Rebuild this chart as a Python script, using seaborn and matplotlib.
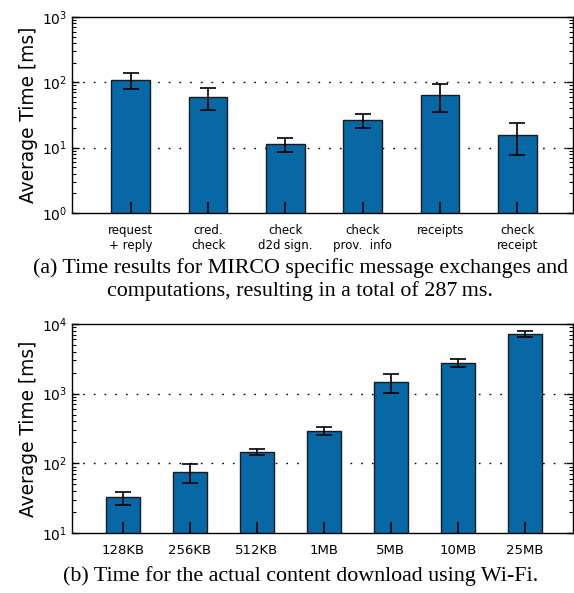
import numpy as np
import pandas as pd
import seaborn as sns
import matplotlib
matplotlib.use("Agg")
import matplotlib.pyplot as plt
from matplotlib.ticker import LogLocator, NullFormatter

# (a) MIRCO message exchanges and computations
steps = ["request\n+ reply", "cred.\ncheck", "check\nd2d sign.", "check\nprov.  info", "receipts", "check\nreceipt"]
steps_mean = [108, 60, 11.2, 26.5, 64.5, 15.8]
steps_low = [78, 38, 8.6, 20.2, 35, 7.8]
steps_high = [140, 83, 14.2, 32.7, 93.5, 24]

# (b) content download over Wi-Fi
sizes = ["128KB", "256KB", "512KB", "1MB", "5MB", "10MB", "25MB"]
sizes_mean = [32.7, 75, 145, 295, 1480, 2800, 7250]
sizes_low = [25.4, 52, 132, 254, 1030, 2400, 6610]
sizes_high = [39, 98, 160, 330, 1900, 3190, 8020]

bar_color = "#0868A6"

sns.set_style("ticks")
plt.rcParams.update({
    "font.family": ["DejaVu Sans"],
    "xtick.direction": "in",
    "ytick.direction": "in",
    "xtick.color": "black",
    "ytick.color": "black",
    "text.color": "black",
    "axes.labelcolor": "black",
    "axes.linewidth": 1.0,
    "axes.axisbelow": False,
})

fig = plt.figure(figsize=(5.74, 5.93), dpi=100)
ax_a = fig.add_axes([0.1254, 0.6408, 0.873, 0.3305])
ax_b = fig.add_axes([0.1254, 0.1012, 0.873, 0.3524])


def draw_panel(ax, labels, mean, low, high, ylim, xlabelsize):
    df = pd.DataFrame({"label": labels, "mean": mean})
    sns.barplot(data=df, x="label", y="mean", ax=ax, color=bar_color,
                width=0.5, edgecolor="#1a1a1a", linewidth=1.0, saturation=1)
    ax.set_yscale("log")
    mean = np.array(mean)
    yerr = [mean - np.array(low), np.array(high) - mean]
    ax.errorbar(np.arange(len(labels)), mean, yerr=yerr, fmt="none",
                ecolor="black", elinewidth=1.2, capsize=6, capthick=1.2, zorder=5)
    ax.set_ylim(*ylim)
    ax.set_xlim(-0.76, len(labels) - 0.28)
    ax.yaxis.set_major_locator(LogLocator(base=10, numticks=10))
    ax.yaxis.set_minor_locator(LogLocator(base=10, subs=np.arange(2, 10), numticks=20))
    ax.yaxis.set_minor_formatter(NullFormatter())
    ax.tick_params(axis="y", which="major", direction="in", left=True, right=True,
                   length=5, width=1.0, labelsize=10)
    ax.tick_params(axis="y", which="minor", direction="in", left=True, right=True,
                   length=3, width=0.8)
    ax.tick_params(axis="x", which="major", direction="in", bottom=True, top=False,
                   length=8, width=1.2, color="black", labelsize=xlabelsize, pad=8)
    ax.tick_params(axis="x", which="minor", bottom=False, top=False)
    ax.xaxis.set_zorder(6)
    ax.yaxis.set_zorder(6)
    for v in ax.get_yticks():
        if ylim[0] < v < ylim[1]:
            ax.axhline(v, color="black", linestyle=(0, (1.2, 6.5)), linewidth=1.0, zorder=0.5)
    ax.set_xlabel("")
    ax.set_ylabel("Average Time [ms]", fontsize=13.4, labelpad=3)
    for s in ax.spines.values():
        s.set_visible(True)
        s.set_color("black")
        s.set_zorder(7)


draw_panel(ax_a, steps, steps_mean, steps_low, steps_high, (1, 1000), 8.5)
draw_panel(ax_b, sizes, sizes_mean, sizes_low, sizes_high, (10, 10000), 9.5)

cap_font = dict(family=["Liberation Serif"], fontsize=15.8, ha="center", va="center")
fig.text(0.523, 1 - 268 / 593, "(a) Time results for MIRCO specific message exchanges and", **cap_font)
fig.text(0.523, 1 - 291 / 593, "computations, resulting in a total of 287\u2009ms.", **cap_font)
fig.text(0.523, 1 - 576 / 593, "(b) Time for the actual content download using Wi-Fi.", **cap_font)

fig.savefig("out.png", dpi=100, facecolor="white")
